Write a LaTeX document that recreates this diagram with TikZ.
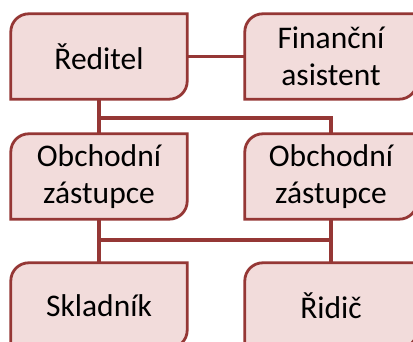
\documentclass[tikz,border=0pt]{standalone}
\usepackage{fontspec}
\setmainfont{Carlito}
\usetikzlibrary{backgrounds}
\definecolor{boxborder}{HTML}{953735}
\definecolor{boxfill}{HTML}{F2DCDB}
\tikzset{
  boxnode/.style={minimum height=85pt, inner sep=0pt, align=center,
    font=\fontsize{31.5}{37}\selectfont, text=black},
  leftbox/.style={boxnode, minimum width=176pt},
  rightbox/.style={boxnode, minimum width=172pt},
  boxline/.style={draw=boxborder, fill=boxfill, line width=2.8pt},
  conn/.style={draw=boxborder, line width=3.4pt},
}
\newcommand\orgbox[4]{%
  \node[#1] (#2) at (#3) {#4};
  \begin{pgfonlayer}{background}
  \draw[boxline] (#2.south west) -- ([yshift=-18pt]#2.north west)
    arc[start angle=180,end angle=90,radius=18pt] -- (#2.north east)
    -- ([yshift=18pt]#2.south east)
    arc[start angle=0,end angle=-90,radius=18pt] -- cycle;
  \end{pgfonlayer}}
\begin{document}
\begin{tikzpicture}[x=1pt,y=1pt]
\useasboundingbox (0,0) rectangle (413,342);
\clip (0,0) rectangle (413,342);
\orgbox{leftbox}{reditel}{99,285.5}{Ředitel}
\orgbox{rightbox}{fin}{331,285.5}{Finanční\\asistent}
\orgbox{leftbox}{ob1}{99,165.5}{Obchodní\\zástupce}
\orgbox{rightbox}{ob2}{331,165.5}{Obchodní\\zástupce}
\orgbox{leftbox}{sklad}{99,36.5}{Skladník}
\orgbox{rightbox}{ridic}{331,36.5}{Řidič}
\coordinate (bus1) at (0,224);
\coordinate (bus2) at (0,102);
\begin{pgfonlayer}{background}
\draw[conn] (reditel.east) -- (fin.west);
\draw[conn] (reditel.south) |- (bus1 -| ob2.north) -- (ob2.north);
\draw[conn] (bus1 -| ob1.north) -- (ob1.north);
\draw[conn] (ob1.south) |- (bus2 -| ob2.south) -- (ob2.south);
\draw[conn] (bus2 -| sklad.north) -- (sklad.north);
\draw[conn] (bus2 -| ridic.north) -- (ridic.north);
\end{pgfonlayer}
\end{tikzpicture}
\end{document}
